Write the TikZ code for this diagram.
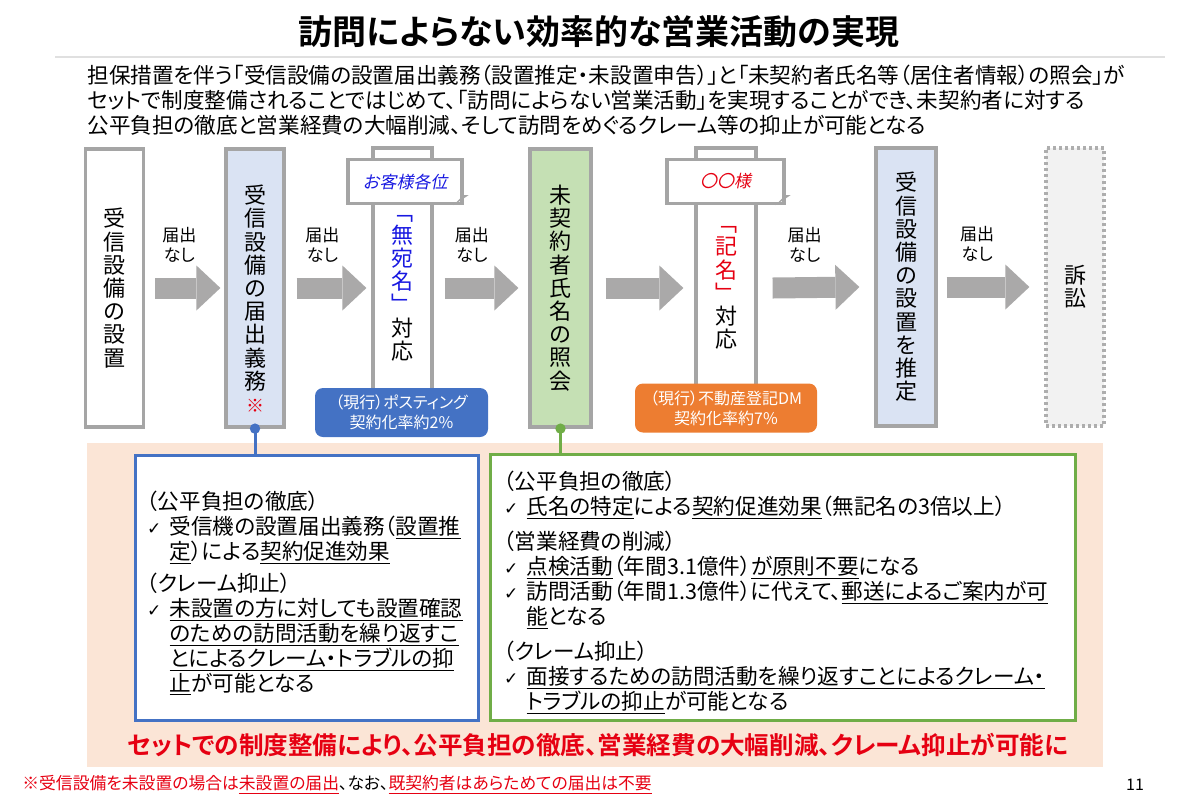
\documentclass[tikz,border=0pt]{standalone}
\usepackage{fontspec}
\setmainfont{Noto Sans CJK JP}[RawFeature=+palt,BoldFont={* Bold}]
\newfontfamily\tatefont{Noto Sans CJK JP}
\newfontfamily\slantfont{Noto Sans CJK JP}[FakeSlant=0.2]
\newfontfamily\symfont{DejaVu Sans}
\usepackage{xcolor}
\usetikzlibrary{arrows.meta}
\definecolor{boxgray}{RGB}{165,165,165}
\definecolor{arrgray}{RGB}{170,169,169}
\definecolor{paleblue}{RGB}{218,227,243}
\definecolor{palegreen}{RGB}{197,224,180}
\definecolor{palegray}{RGB}{242,242,242}
\definecolor{peach}{RGB}{251,229,214}
\definecolor{nhkblue}{RGB}{68,114,196}
\definecolor{nhkgreen}{RGB}{112,173,71}
\definecolor{nhkorange}{RGB}{237,125,49}
\definecolor{alertred}{RGB}{230,0,18}
\definecolor{inkblue}{RGB}{25,25,225}
\newcommand{\uln}[1]{\underline{#1}}
\newcommand{\chk}{\makebox[1.05em][l]{\symfont\fontsize{8.5}{8.5}\selectfont ✓}}
\newcommand{\ind}{\hspace*{1.05em}}
\newcommand{\bltx}[1]{\textcolor{inkblue}{#1}}
\newcommand{\rdtx}[1]{\textcolor{alertred}{#1}}

\begin{document}
\begin{tikzpicture}[x=0.5pt,y=-0.5pt,
flow/.style={draw=boxgray, line width=1.6pt, minimum width=29pt, minimum height=139pt, inner sep=0pt, align=center, font=\tatefont\fontsize{11}{11.6}\selectfont},
pole/.style={flow, fill=white, minimum height=140pt},
card/.style={draw=boxgray, line width=1.6pt, fill=white, minimum height=22pt, inner sep=0pt, font=\slantfont\fontsize{8.5}{8.5}\selectfont},
rate/.style={rounded corners=4pt, minimum height=24.5pt, inner sep=0pt, align=center, text=white, font=\fontsize{8}{10}\selectfont},
arr/.style={color=arrgray, line width=10.5pt, -{Triangle[length=12pt,width=22.5pt,line width=0pt]}},
lab/.style={align=center, inner sep=0pt, font=\fontsize{8.5}{10}\selectfont},
memo/.style={draw, line width=1.5pt, fill=white, inner ysep=0pt, align=left, font=\fontsize{10.8}{12.5}\selectfont}]
\useasboundingbox (0,0) rectangle (1200,800);

\node[font=\bfseries\fontsize{17}{17}\selectfont] at (599,32) (title) {訪問によらない効率的な営業活動の実現};
\draw[black!12, line width=0.6pt] (55,57) -- (1165,57);
\node[anchor=north west, align=left, inner sep=0pt, font=\fontsize{10.8}{12.5}\selectfont] at (87,65) (lead) {担保措置を伴う「受信設備の設置届出義務（設置推定・未設置申告）」と「未契約者氏名等（居住者情報）の照会」が\\セットで制度整備されることではじめて、「訪問によらない営業活動」を実現することができ、未契約者に対する\\公平負担の徹底と営業経費の大幅削減、そして訪問をめぐるクレーム等の抑止が可能となる};

\fill[peach] (87,443) rectangle (1103,767);

\node[flow] at (114.5,288) (b1) {受\\信\\設\\備\\の\\設\\置};
\node[flow, fill=paleblue] at (255,288) (b2) {受\\信\\設\\備\\の\\届\\出\\義\\務};
\node[text=alertred, inner sep=0pt, font=\fontsize{9}{9}\selectfont] at (255,406) (kome) {※};
\node[pole, minimum width=29.5pt] at (402.5,288) (p3) {\bltx{﹁}\\\bltx{無}\\\bltx{宛}\\\bltx{名}\\\bltx{﹂}\\対\\応};
\node[card, minimum width=57pt] at (405,181.5) (c3) {\bltx{お客様各位}};
\fill[boxgray] ([xshift=-5pt]c3.south east) -- ([yshift=5pt]c3.south east) -- ([xshift=2.5pt,yshift=5pt]c3.south east) -- cycle;
\node[rate, fill=nhkblue, minimum width=86.5pt] at (401.5,412.5) (r3) {（現行）ポスティング\\契約化率約2\%};
\node[flow, fill=palegreen, minimum width=30.5pt] at (560.5,288) (b4) {未\\契\\約\\者\\氏\\名\\の\\照\\会};
\node[pole, minimum width=30pt] at (726,288) (p5) {\rdtx{﹁}\\\rdtx{記}\\\rdtx{名}\\\rdtx{﹂}\\対\\応};
\node[card, minimum width=58.5pt] at (725.5,181.5) (c5) {\rdtx{〇〇様}};
\fill[boxgray] ([xshift=-5pt]c5.south east) -- ([yshift=5pt]c5.south east) -- ([xshift=2.5pt,yshift=5pt]c5.south east) -- cycle;
\node[rate, fill=nhkorange, minimum width=91pt] at (726,408) (r5) {（現行）不動産登記DM\\契約化率約7\%};
\node[flow, fill=paleblue, minimum width=30pt] at (906,287) (b6) {受\\信\\設\\備\\の\\設\\置\\を\\推\\定};
\node[flow, fill=palegray, draw=boxgray!90, dash pattern=on 1.5pt off 1.5pt] at (1075,287) (b7) {訴\\訟};

\draw[arr] ([xshift=5pt]b1.east) -- coordinate[pos=0.37] (l1) ([xshift=-2pt]b2.west);
\draw[arr] ([xshift=5.5pt]b2.east) -- coordinate[pos=0.37] (l2) ([xshift=-2.5pt]p3.west);
\draw[arr] ([xshift=5.5pt]p3.east) -- coordinate[pos=0.37] (l3) ([xshift=-5pt]b4.west);
\draw[arr] ([xshift=6.5pt]b4.east) -- ([xshift=-5.5pt]p5.west);
\draw[arr] ([xshift=7.5pt]p5.east) -- coordinate[pos=0.37] (l5) ([xshift=-7.5pt]b6.west);
\draw[arr] ([xshift=4.5pt]b6.east) -- coordinate[pos=0.37] (l6) ([xshift=-7.5pt]b7.west);
\node[lab, yshift=21.5pt] at (l1) {届出\\なし};
\node[lab, yshift=21.5pt] at (l2) {届出\\なし};
\node[lab, yshift=21.5pt] at (l3) {届出\\なし};
\node[lab, yshift=21.5pt] at (l5) {届出\\なし};
\node[lab, yshift=21.5pt] at (l6) {届出\\なし};

\node[memo, draw=nhkblue, inner xsep=6pt, text width=159.5pt, minimum height=132.5pt] at (306.5,587.5) (m1) {\rule{0pt}{15pt}（公平負担の徹底）\\
\chk 受信機の設置届出義務（\uln{設置推}\\
\ind\uln{定}）による\uln{契約促進効果}\\[3.5pt]
（クレーム抑止）\\
\chk\uln{未設置の方に対しても設置確認}\\
\ind\uln{のための訪問活動を繰り返すこ}\\
\ind\uln{とによるクレーム・トラブルの抑}\\
\ind\uln{止}が可能となる};
\node[memo, draw=nhkgreen, inner xsep=7pt, text width=278.5pt, minimum height=133pt] at (782.5,587) (m2) {\rule{0pt}{15pt}（公平負担の徹底）\\
\chk\uln{氏名の特定}による\uln{契約促進効果}（無記名の3倍以上）\\[5pt]
（営業経費の削減）\\
\chk\uln{点検活動}（年間3.1億件）\uln{が原則不要}になる\\
\chk 訪問活動（年間1.3億件）に代えて、\uln{郵送によるご案内が可}\\
\ind\uln{能}となる\\[5pt]
（クレーム抑止）\\
\chk\uln{面接するための訪問活動を繰り返すことによるクレーム・}\\
\ind\uln{トラブルの抑止}が可能となる};

\draw[nhkblue, line width=1.5pt] (b2.south) -- (b2.south |- m1.north);
\fill[nhkblue] (b2.south) circle (2.6pt);
\draw[nhkgreen, line width=1.5pt] (b4.south) -- (b4.south |- m2.north);
\fill[nhkgreen] (b4.south) circle (2.6pt);

\node[text=alertred, font=\bfseries\fontsize{12.3}{12.3}\selectfont] at (598,745) (sum) {セットでの制度整備により、公平負担の徹底、営業経費の大幅削減、クレーム抑止が可能に};
\node[anchor=west, inner sep=0pt, font=\fontsize{8.4}{8.4}\selectfont] at (22,785) (foot) {\rdtx{※受信設備を未設置の場合は\uln{未設置の届出}}、なお、\rdtx{\uln{既契約者はあらためての届出は不要}}};
\node[font=\fontsize{8}{8}\selectfont] at (1135,785) (page) {11};
\end{tikzpicture}
\end{document}
